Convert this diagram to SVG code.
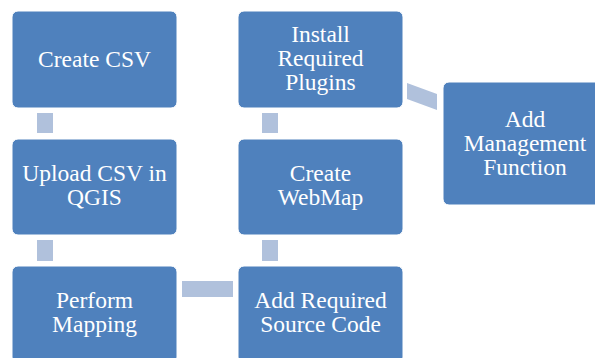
<svg xmlns="http://www.w3.org/2000/svg" width="595" height="358" viewBox="0 0 595 358">
<style>
.box{fill:#4F81BD;stroke:#FFFFFF;stroke-width:1}
.conn{fill:#B0C1DC}
.t{font-family:"Liberation Serif","Times New Roman",serif;font-size:23.5px;fill:#FFFFFF;text-anchor:middle}
</style>
<rect width="595" height="358" fill="#FFFFFF"/>
<g id="connectors">
<rect class="conn" x="37" y="113" width="16" height="20"/>
<rect class="conn" x="37" y="240" width="16" height="21"/>
<rect class="conn" x="182" y="281" width="51" height="16"/>
<rect class="conn" x="262" y="240" width="16" height="21"/>
<rect class="conn" x="262" y="113" width="16" height="20"/>
<polygon class="conn" points="407,83 437,94 437,110 407,99"/>
</g>
<g id="create-csv">
<rect class="box" x="12" y="11" width="165" height="97" rx="6"/>
<text class="t" x="94.5" y="67">Create CSV</text>
</g>
<g id="upload-csv">
<rect class="box" x="12" y="139" width="165" height="96" rx="6"/>
<text class="t" x="94.5" y="181">Upload CSV in</text>
<text class="t" x="94.5" y="205">QGIS</text>
</g>
<g id="perform-mapping">
<rect class="box" x="12" y="266" width="165" height="97" rx="6"/>
<text class="t" x="94.5" y="308">Perform</text>
<text class="t" x="94.5" y="332">Mapping</text>
</g>
<g id="add-source-code">
<rect class="box" x="238" y="266" width="165" height="97" rx="6"/>
<text class="t" x="320.5" y="308">Add Required</text>
<text class="t" x="320.5" y="332">Source Code</text>
</g>
<g id="create-webmap">
<rect class="box" x="238" y="139" width="165" height="96" rx="6"/>
<text class="t" x="320.5" y="181">Create</text>
<text class="t" x="320.5" y="205">WebMap</text>
</g>
<g id="install-plugins">
<rect class="box" x="238" y="11" width="165" height="97" rx="6"/>
<text class="t" x="320.5" y="42">Install</text>
<text class="t" x="320.5" y="66">Required</text>
<text class="t" x="320.5" y="90">Plugins</text>
</g>
<g id="add-management">
<rect class="box" x="443" y="82" width="165" height="123" rx="6"/>
<text class="t" x="525" y="127">Add</text>
<text class="t" x="525" y="151">Management</text>
<text class="t" x="525" y="175">Function</text>
</g>
</svg>
